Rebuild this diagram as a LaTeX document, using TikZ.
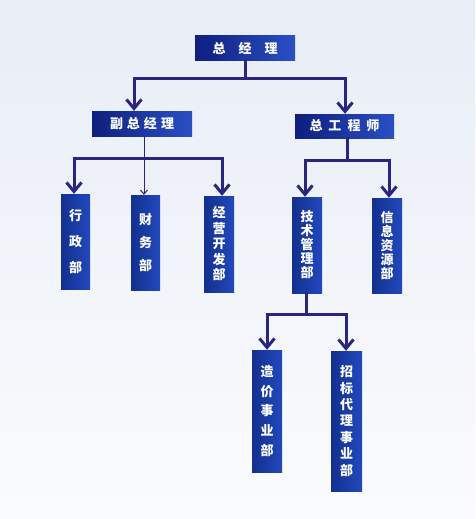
\documentclass[tikz,border=0pt]{standalone}
\usepackage{fontspec}
\newfontfamily\cjk{Noto Sans CJK SC}
\usetikzlibrary{arrows.meta,positioning}
\definecolor{linec}{HTML}{2A2680}
\definecolor{boxl}{HTML}{0E1E7E}
\definecolor{boxr}{HTML}{2A50C4}
\definecolor{vboxl}{HTML}{12308E}
\definecolor{vboxr}{HTML}{2248BC}
\definecolor{bgtop}{HTML}{E8EDF6}
\definecolor{bgbot}{HTML}{FAFBFD}
\tikzset{
  hbox/.style={left color=boxl, right color=boxr, text=white, inner sep=0pt,
    font=\cjk\bfseries\fontsize{13}{15}\selectfont},
  vbox/.style={left color=vboxl, right color=vboxr, text=white, inner sep=0pt,
    align=center, font=\cjk\bfseries\fontsize{13}{15}\selectfont},
  thickline/.style={draw=linec, line width=3pt, line cap=rect},
  arrowline/.style={draw=linec, line width=3pt,
    -{Straight Barb[length=9pt,width=15pt,line width=3pt]}},
  thinarrow/.style={draw=linec, line width=1pt,
    -{Straight Barb[length=4pt,width=7pt,line width=1pt]}},
}
\begin{document}
\begin{tikzpicture}[x=1pt,y=-1pt]
\shade[top color=bgtop, bottom color=bgbot] (0,0) rectangle (475,519);
\useasboundingbox (0,0) rectangle (475,519);

% top levels
\node[hbox, minimum width=100pt, minimum height=25pt] (gm) at (245,48.5) {总\hspace{13pt}经\hspace{13pt}理};
\node[hbox, minimum width=100pt, minimum height=25pt] (vgm) at (142,123.5) {副\hspace{4pt}总\hspace{4pt}经\hspace{4pt}理};
\node[hbox, minimum width=99pt, minimum height=24pt] (ce) at (344.5,126) {总\hspace{6pt}工\hspace{6pt}程\hspace{6pt}师};

% departments
\node[vbox, minimum width=29pt, minimum height=95pt] (xz) at (75.5,241.5) {行\\[11pt]政\\[11pt]部};
\node[vbox, minimum width=29pt, minimum height=95pt] (cw) at (145.5,242.5) {财\\[8pt]务\\[8pt]部};
\node[vbox, minimum width=30pt, minimum height=96pt] (jy) at (219,244) {经\\[0.5pt]营\\[0.5pt]开\\[0.5pt]发\\[0.5pt]部};
\node[vbox, minimum width=30pt, minimum height=96pt] (js) at (307,245) {技\\[-1pt]术\\[-1pt]管\\[-1pt]理\\[-1pt]部};
\node[vbox, minimum width=30pt, minimum height=95pt] (xx) at (387,245.5) {信\\[-1pt]息\\[-1pt]资\\[-1pt]源\\[-1pt]部};
\node[vbox, minimum width=30pt, minimum height=122pt] (zj) at (267,411) {造\\[4.6pt]价\\[4.6pt]事\\[4.6pt]业\\[4.6pt]部};
\node[vbox, minimum width=31pt, minimum height=140pt] (zb) at (346.5,421) {招\\[1.4pt]标\\[1.4pt]代\\[1.4pt]理\\[1.4pt]事\\[1.4pt]业\\[1.4pt]部};

% connectors: level 1
\coordinate (j1) at (245,78);
\draw[thickline] (gm.south) -- (j1);
\draw[arrowline] (j1) -| ([xshift=-8pt]vgm.north);
\draw[arrowline] (j1) -| ([xshift=0.5pt]ce.north);

% left branch
\coordinate (j2) at (144,158);
\draw[thinarrow] ([xshift=2pt]vgm.south) -- ([xshift=-1.5pt]cw.north);
\draw[arrowline] (j2) -| ([xshift=-1.5pt]xz.north);
\draw[arrowline] (j2) -| ([xshift=3pt]jy.north);

% right branch
\coordinate (j3) at (347,160);
\draw[thickline] ([xshift=2.5pt]ce.south) -- (j3);
\draw[arrowline] (j3) -| ([xshift=-2pt]js.north);
\draw[arrowline] (j3) -| ([xshift=2pt]xx.north);

% technical management branch
\coordinate (j4) at (306,314);
\draw[thickline] ([xshift=-1pt]js.south) -- (j4);
\draw[arrowline] (j4) -| (zj.north);
\draw[arrowline] (j4) -| ([xshift=-0.5pt]zb.north);
\end{tikzpicture}
\end{document}
